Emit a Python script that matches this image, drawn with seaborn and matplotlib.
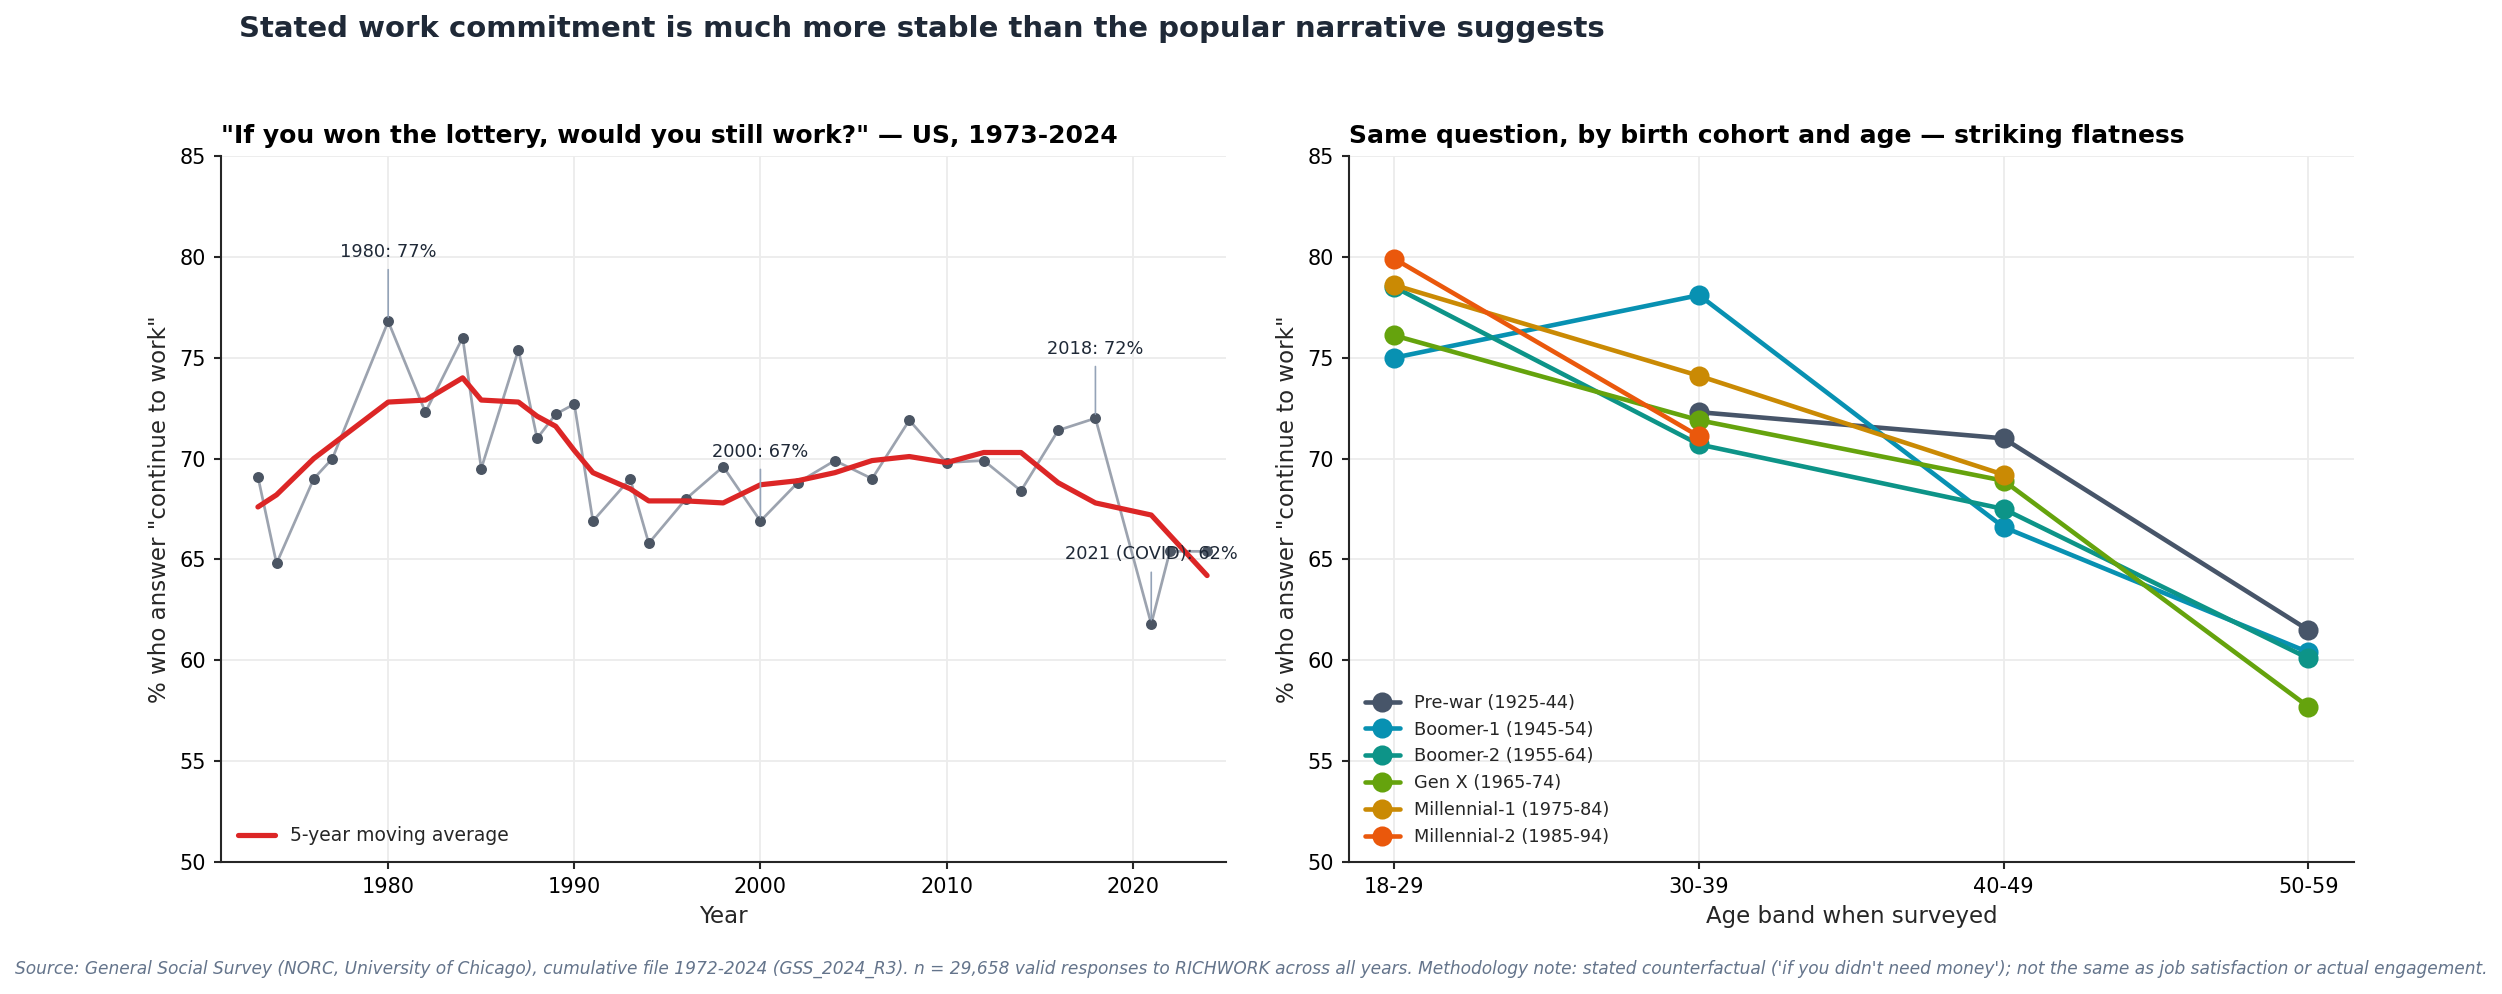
import matplotlib
matplotlib.use("Agg")
import matplotlib.pyplot as plt
import seaborn as sns
import pandas as pd

# yearly GSS share saying they would keep working
years = [1973, 1974, 1976, 1977, 1980, 1982, 1984, 1985, 1987, 1988, 1989, 1990, 1991, 1993, 1994,
         1996, 1998, 2000, 2002, 2004, 2006, 2008, 2010, 2012, 2014, 2016, 2018, 2021, 2022, 2024]
pct = [69.1, 64.8, 69.0, 70.0, 76.8, 72.3, 76.0, 69.5, 75.4, 71.0, 72.2, 72.7, 66.9, 69.0, 65.8,
       68.0, 69.6, 66.9, 68.8, 69.9, 69.0, 71.9, 69.8, 69.9, 68.4, 71.4, 72.0, 61.8, 65.4, 65.4]
moving_avg = [67.6, 68.2, 70.0, 70.7, 72.8, 72.9, 74.0, 72.9, 72.8, 72.1, 71.6, 70.4, 69.3, 68.5, 67.9,
              67.9, 67.8, 68.7, 68.9, 69.3, 69.9, 70.1, 69.8, 70.3, 70.3, 68.8, 67.8, 67.2, 66.2, 64.2]

annot_years = [1980, 2000, 2018, 2021]
annot_labels = ["1980: 77%", "2000: 67%", "2018: 72%", "2021 (COVID): 62%"]

# cohort x age band
age_bands = ["18-29", "30-39", "40-49", "50-59"]
cohorts = ["Pre-war (1925-44)", "Boomer-1 (1945-54)", "Boomer-2 (1955-64)",
           "Gen X (1965-74)", "Millennial-1 (1975-84)", "Millennial-2 (1985-94)"]
prewar = [None, 72.3, 71.0, 61.5]
boomer1 = [75.0, 78.1, 66.6, 60.4]
boomer2 = [78.5, 70.7, 67.5, 60.1]
genx = [76.1, 71.9, 68.9, 57.7]
millennial1 = [78.6, 74.1, 69.2, None]
millennial2 = [79.9, 71.1, None, None]
cohort_colors = ["#475569", "#0891b2", "#0d9488", "#65a30d", "#ca8a04", "#ea580c"]

rows = []
for name, vals in zip(cohorts, [prewar, boomer1, boomer2, genx, millennial1, millennial2]):
    for band, v in zip(age_bands, vals):
        if v is not None:
            rows.append({"cohort": name, "age": band, "pct": v})
cohort_df = pd.DataFrame(rows)
trend_df = pd.DataFrame({"year": years, "pct": pct, "ma": moving_avg})

sns.set_theme(style="ticks", rc={
    "axes.grid": True,
    "grid.color": "#ececec",
    "grid.linewidth": 0.9,
    "axes.edgecolor": "#262626",
    "axes.linewidth": 1.0,
})
plt.rcParams["font.family"] = ["DejaVu Sans"]

W, H = 2502, 994
fig = plt.figure(figsize=(W / 150, H / 150), dpi=150)
ax1 = fig.add_axes([220.7 / W, 0.1328, 1005 / W, 0.7103])
ax2 = fig.add_axes([1348.7 / W, 0.1328, 1005.3 / W, 0.7103])

# left panel
sns.lineplot(data=trend_df, x="year", y="pct", ax=ax1, color="#9ca3af", linewidth=1.3,
             marker="o", markersize=4.5, markerfacecolor="#4b5563", markeredgecolor="#4b5563",
             zorder=2)
sns.lineplot(data=trend_df, x="year", y="ma", ax=ax1, color="#dc2626", linewidth=2.5,
             label="5-year moving average", zorder=3)
for yr, lab in zip(annot_years, annot_labels):
    v = pct[years.index(yr)]
    ax1.annotate(lab, xy=(yr, v), xytext=(yr, v + 3), ha="center", va="bottom",
                 fontsize=8.5, color="#1f2937",
                 arrowprops=dict(arrowstyle="-", color="#94a3b8", lw=0.8))
ax1.set_xlim(1971, 2025)
ax1.set_ylim(50, 85)
ax1.set_xlabel("Year", fontsize=11)
ax1.set_ylabel('% who answer "continue to work"', fontsize=11)
ax1.set_title('"If you won the lottery, would you still work?" \u2014 US, 1973-2024',
              loc="left", fontsize=12, fontweight="bold", color="black")
ax1.legend(loc="lower left", frameon=False, fontsize=9)

# right panel
sns.pointplot(data=cohort_df, x="age", y="pct", hue="cohort", order=age_bands,
              hue_order=cohorts, palette=cohort_colors, errorbar=None, ax=ax2,
              markersize=8, linewidth=2.2)
ax2.set_xlim(-0.15, 3.15)
ax2.set_ylim(50, 85)
ax2.set_xlabel("Age band when surveyed", fontsize=11)
ax2.set_ylabel('% who answer "continue to work"', fontsize=11)
ax2.set_title("Same question, by birth cohort and age \u2014 striking flatness",
              loc="left", fontsize=12, fontweight="bold", color="black")
ax2.grid(True, color="#ececec", linewidth=0.9)
ax2.legend(loc="lower left", frameon=False, fontsize=8.5)

for ax in (ax1, ax2):
    sns.despine(ax=ax)
    ax.set_yticks(range(50, 90, 5))
    ax.tick_params(labelsize=10, length=3.5, width=1.0, color="#262626", labelcolor="black")

fig.text(239 / W, 1 - 37 / H, "Stated work commitment is much more stable than the popular narrative suggests",
         ha="left", va="baseline", fontsize=14, fontweight="bold", color="#1f2937")
fig.text(0.5, 1 - 969 / H,
         "Source: General Social Survey (NORC, University of Chicago), cumulative file 1972-2024 (GSS_2024_R3). "
         "n = 29,658 valid responses to RICHWORK across all years. Methodology note: stated counterfactual "
         "('if you didn't need money'); not the same as job satisfaction or actual engagement.",
         ha="center", va="center", fontsize=8.15, style="italic", color="#64748b")

fig.savefig("out.png", dpi=150)
